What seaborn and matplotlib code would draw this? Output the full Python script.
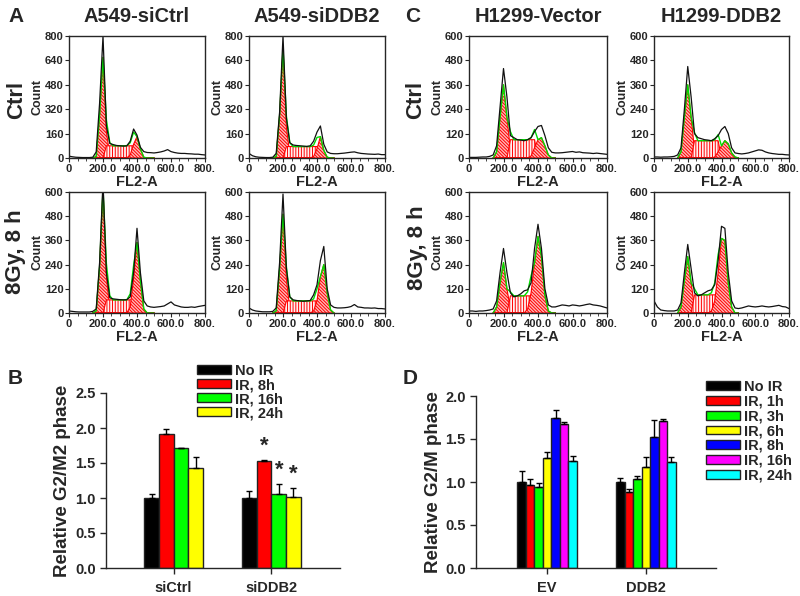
import numpy as np
import pandas as pd
import matplotlib
matplotlib.use("Agg")
import matplotlib.pyplot as plt
from matplotlib.ticker import MultipleLocator
import seaborn as sns

sns.set_style("ticks")
plt.rcParams["font.family"] = ["Liberation Sans", "DejaVu Sans"]
plt.rcParams["font.weight"] = "bold"
plt.rcParams["axes.labelweight"] = "bold"
plt.rcParams["hatch.linewidth"] = 0.7

# ---- flow histograms: counts sampled every 20 channels of FL2-A (0..800)
chan = list(range(0, 801, 20))
fit_chan = list(range(140, 501, 20))

a_ctrl_si = [12, 8, 5, 4, 3, 3, 3, 5, 40, 360, 800, 210, 95, 88, 82, 80, 78, 80, 110, 190, 150,
             70, 42, 36, 35, 33, 36, 40, 46, 55, 42, 36, 32, 30, 30, 28, 27, 25, 25, 22, 20]
a_ctrl_si_g1 = [0, 10, 280, 660, 170, 20, 0, 0, 0, 0, 0, 0, 0, 0, 0, 0, 0, 0, 0]
a_ctrl_si_s = [0, 0, 0, 0, 80, 80, 80, 80, 80, 80, 80, 80, 80, 0, 0, 0, 0, 0, 0]
a_ctrl_si_g2 = [0, 0, 0, 0, 0, 0, 0, 0, 0, 0, 0, 20, 90, 140, 60, 5, 0, 0, 0]

a_ctrl_dd = [30, 15, 8, 5, 4, 3, 3, 5, 30, 300, 800, 260, 100, 85, 82, 80, 78, 76, 80, 110, 170,
             210, 90, 40, 30, 28, 28, 30, 32, 35, 38, 40, 34, 30, 28, 26, 25, 24, 26, 22, 22]
a_ctrl_dd_g1 = [0, 10, 280, 720, 200, 25, 0, 0, 0, 0, 0, 0, 0, 0, 0, 0, 0, 0, 0]
a_ctrl_dd_s = [0, 0, 0, 0, 75, 75, 75, 75, 75, 75, 75, 75, 75, 75, 0, 0, 0, 0, 0]
a_ctrl_dd_g2 = [0, 0, 0, 0, 0, 0, 0, 0, 0, 0, 0, 0, 10, 60, 140, 50, 5, 0, 0]

a_ir_si = [10, 8, 6, 5, 5, 5, 5, 8, 20, 250, 650, 200, 75, 70, 68, 66, 65, 66, 80, 200, 420,
           200, 60, 35, 30, 28, 30, 32, 35, 45, 55, 40, 35, 30, 28, 28, 30, 28, 32, 35, 38]
a_ir_si_g1 = [0, 10, 230, 620, 180, 20, 0, 0, 0, 0, 0, 0, 0, 0, 0, 0, 0, 0, 0]
a_ir_si_s = [0, 0, 0, 0, 65, 65, 65, 65, 65, 65, 65, 65, 65, 0, 0, 0, 0, 0, 0]
a_ir_si_g2 = [0, 0, 0, 0, 0, 0, 0, 0, 0, 0, 0, 30, 170, 350, 160, 20, 0, 0, 0]

a_ir_dd = [25, 15, 10, 8, 6, 6, 6, 8, 25, 250, 590, 220, 80, 65, 62, 60, 58, 60, 62, 90, 140,
           260, 330, 120, 40, 28, 25, 25, 26, 28, 32, 42, 30, 28, 25, 25, 24, 25, 22, 22, 20]
a_ir_dd_g1 = [0, 10, 220, 490, 170, 20, 0, 0, 0, 0, 0, 0, 0, 0, 0, 0, 0, 0, 0]
a_ir_dd_s = [0, 0, 0, 0, 60, 60, 60, 60, 60, 60, 60, 60, 60, 60, 0, 0, 0, 0, 0]
a_ir_dd_g2 = [0, 0, 0, 0, 0, 0, 0, 0, 0, 0, 0, 0, 10, 60, 180, 240, 100, 15, 0]

c_ctrl_ev = [3, 3, 3, 4, 5, 5, 8, 15, 60, 250, 440, 300, 110, 100, 90, 88, 85, 90, 100, 130, 155,
             160, 110, 50, 28, 25, 25, 26, 28, 30, 32, 28, 30, 26, 25, 24, 22, 24, 22, 20, 18]
c_ctrl_ev_g1 = [0, 30, 200, 360, 200, 40, 0, 0, 0, 0, 0, 0, 0, 0, 0, 0, 0, 0, 0]
c_ctrl_ev_s = [0, 0, 0, 0, 0, 90, 90, 90, 90, 90, 90, 90, 90, 0, 0, 0, 0, 0, 0]
c_ctrl_ev_g2 = [0, 0, 0, 0, 0, 0, 0, 0, 0, 0, 0, 10, 50, 90, 100, 60, 15, 0, 0]

c_ctrl_dd = [5, 5, 4, 5, 5, 6, 8, 15, 50, 240, 450, 300, 120, 100, 95, 90, 88, 85, 95, 110, 140,
             155, 120, 50, 25, 22, 20, 22, 25, 30, 35, 40, 38, 30, 25, 22, 20, 18, 18, 16, 15]
c_ctrl_dd_g1 = [0, 30, 200, 360, 200, 40, 0, 0, 0, 0, 0, 0, 0, 0, 0, 0, 0, 0, 0]
c_ctrl_dd_s = [0, 0, 0, 0, 0, 85, 85, 85, 85, 85, 85, 85, 85, 0, 0, 0, 0, 0, 0]
c_ctrl_dd_g2 = [0, 0, 0, 0, 0, 0, 0, 0, 0, 0, 0, 5, 30, 60, 85, 70, 25, 5, 0]

c_ir_ev = [10, 10, 8, 10, 10, 12, 15, 20, 60, 200, 320, 200, 100, 80, 85, 95, 110, 115, 150, 320, 440,
           320, 120, 40, 30, 30, 35, 40, 38, 35, 40, 38, 35, 38, 42, 45, 40, 38, 35, 30, 25]
c_ir_ev_g1 = [0, 30, 150, 250, 120, 20, 0, 0, 0, 0, 0, 0, 0, 0, 0, 0, 0, 0, 0]
c_ir_ev_s = [0, 0, 0, 0, 0, 85, 85, 85, 85, 85, 85, 85, 0, 0, 0, 0, 0, 0, 0]
c_ir_ev_g2 = [0, 0, 0, 0, 0, 0, 0, 0, 0, 0, 20, 100, 250, 380, 280, 90, 10, 0, 0]

c_ir_dd = [60, 30, 15, 12, 10, 10, 10, 15, 50, 200, 340, 220, 100, 85, 90, 100, 110, 115, 140, 260, 430,
           420, 200, 60, 25, 22, 25, 30, 35, 32, 30, 32, 35, 32, 30, 32, 35, 38, 32, 30, 22]
c_ir_dd_g1 = [0, 30, 160, 280, 150, 30, 0, 0, 0, 0, 0, 0, 0, 0, 0, 0, 0, 0, 0]
c_ir_dd_s = [0, 0, 0, 0, 0, 90, 90, 90, 90, 90, 90, 90, 90, 0, 0, 0, 0, 0, 0]
c_ir_dd_g2 = [0, 0, 0, 0, 0, 0, 0, 0, 0, 0, 10, 60, 200, 370, 360, 150, 30, 0, 0]

# ---- panel B
b_groups = ["siCtrl", "siDDB2"]
b_conds = ["No IR", "IR, 8h", "IR, 16h", "IR, 24h"]
b_sictrl = [1.00, 1.91, 1.71, 1.43]
b_sictrl_err = [0.06, 0.08, 0.00, 0.15]
b_siddb2 = [1.00, 1.53, 1.06, 1.02]
b_siddb2_err = [0.10, 0.02, 0.14, 0.13]
b_colors = ["#000000", "#ff0000", "#00ff00", "#ffff00"]

# ---- panel D
d_groups = ["EV", "DDB2"]
d_conds = ["No IR", "IR, 1h", "IR, 3h", "IR, 6h", "IR, 8h", "IR, 16h", "IR, 24h"]
d_ev = [1.00, 0.96, 0.94, 1.28, 1.75, 1.67, 1.25]
d_ev_err = [0.13, 0.07, 0.05, 0.07, 0.09, 0.03, 0.05]
d_ddb2 = [1.00, 0.88, 1.03, 1.18, 1.52, 1.71, 1.23]
d_ddb2_err = [0.05, 0.04, 0.04, 0.11, 0.20, 0.02, 0.06]
d_colors = ["#000000", "#ff0000", "#00ff00", "#ffff00", "#0000ff", "#ff00ff", "#00ffff"]

W, H = 800, 596
fig = plt.figure(figsize=(W / 100, H / 100), dpi=100)


def px_axes(l, t, r, b):
    return fig.add_axes([l / W, 1 - b / H, (r - l) / W, (b - t) / H])


def draw_hist(ax, trace, g1, sph, g2, ymax):
    dense = "\\" * 10
    ax.fill_between(fit_chan, g1, facecolor="#ffb8b8", edgecolor="red", hatch=dense, lw=0.8)
    ax.fill_between(fit_chan, sph, facecolor="#fff0f0", edgecolor="red", hatch="|" * 6, lw=0.8)
    ax.fill_between(fit_chan, g2, facecolor="#ffb8b8", edgecolor="red", hatch=dense, lw=0.8)
    total = np.array(g1) + np.array(sph) + np.array(g2)
    sns.lineplot(x=fit_chan, y=total, ax=ax, color="#00dd00", lw=1.0)
    sns.lineplot(x=chan, y=trace, ax=ax, color="#111111", lw=0.9)
    ax.set_xlim(0, 800)
    ax.set_ylim(0, ymax)
    ax.set_xticks([0, 200, 400, 600, 800])
    ax.set_xticklabels(["0", "200.0", "400.0", "600.0", "800."])
    ax.set_yticks(np.linspace(0, ymax, 6))
    ax.set_yticklabels([f"{int(v)}" for v in np.linspace(0, ymax, 6)])
    ax.xaxis.set_minor_locator(MultipleLocator(50))
    ax.tick_params(labelsize=8, length=3, width=0.8, pad=1)
    ax.tick_params(which="minor", length=2, width=0.6)
    for s in ax.spines.values():
        s.set_linewidth(1.0)
    ax.set_xlabel("FL2-A", fontsize=10.5, labelpad=1)
    ax.set_ylabel("Count", fontsize=9, labelpad=1)


hists = [
    ((69, 36, 205, 158), a_ctrl_si, a_ctrl_si_g1, a_ctrl_si_s, a_ctrl_si_g2, 800),
    ((249, 36, 385, 158), a_ctrl_dd, a_ctrl_dd_g1, a_ctrl_dd_s, a_ctrl_dd_g2, 800),
    ((69, 192, 205, 313), a_ir_si, a_ir_si_g1, a_ir_si_s, a_ir_si_g2, 600),
    ((249, 192, 385, 313), a_ir_dd, a_ir_dd_g1, a_ir_dd_s, a_ir_dd_g2, 600),
    ((469, 36, 607, 158), c_ctrl_ev, c_ctrl_ev_g1, c_ctrl_ev_s, c_ctrl_ev_g2, 600),
    ((654, 36, 789, 158), c_ctrl_dd, c_ctrl_dd_g1, c_ctrl_dd_s, c_ctrl_dd_g2, 600),
    ((469, 192, 607, 313), c_ir_ev, c_ir_ev_g1, c_ir_ev_s, c_ir_ev_g2, 600),
    ((654, 192, 789, 313), c_ir_dd, c_ir_dd_g1, c_ir_dd_s, c_ir_dd_g2, 600),
]
for box, tr, g1, sp, g2, ym in hists:
    ax = px_axes(*box)
    draw_hist(ax, tr, g1, sp, g2, ym)

# titles, panel letters and row labels
fig.text(137 / W, 1 - 16 / H, "A549-siCtrl", ha="center", va="center", fontsize=14.5)
fig.text(317 / W, 1 - 16 / H, "A549-siDDB2", ha="center", va="center", fontsize=14.5)
fig.text(538 / W, 1 - 16 / H, "H1299-Vector", ha="center", va="center", fontsize=14.5)
fig.text(721 / W, 1 - 16 / H, "H1299-DDB2", ha="center", va="center", fontsize=14.5)
for x, y, s in [(8, 16, "A"), (405, 16, "C"), (8, 378, "B"), (403, 378, "D")]:
    fig.text(x / W, 1 - y / H, s, ha="left", va="center", fontsize=15)
for x, y, s in [(17, 100, "Ctrl"), (16, 252, "8Gy, 8 h"), (416, 100, "Ctrl"), (418, 248, "8Gy, 8 h")]:
    fig.text(x / W, 1 - y / H, s, ha="center", va="center", rotation=90, fontsize=16)


def draw_bars(ax, groups, conds, v1, e1, v2, e2, colors):
    df = pd.DataFrame({
        "group": [groups[0]] * len(conds) + [groups[1]] * len(conds),
        "cond": conds + conds,
        "value": v1 + v2,
        "err": e1 + e2,
    })
    sns.barplot(data=df, x="group", y="value", hue="cond", hue_order=conds,
                palette=colors, saturation=1, width=0.6, errorbar=None,
                edgecolor="#222222", linewidth=1.0, ax=ax)
    for cont, cond in zip(ax.containers, conds):
        sub = df[df["cond"] == cond]
        xs = [p.get_x() + p.get_width() / 2 for p in cont.patches]
        ax.errorbar(xs, sub["value"], yerr=[np.zeros(len(sub)), sub["err"]], fmt="none",
                    ecolor="black", elinewidth=1.0, capsize=2.5, capthick=1.0)
    sns.despine(ax=ax)
    ax.set_xlabel("")
    ax.tick_params(labelsize=10.5, length=4, width=1.0)
    ax.tick_params(axis="x", pad=5)
    ax.spines["left"].set_linewidth(1.0)
    ax.spines["bottom"].set_linewidth(1.0)
    return df


# panel B
axb = px_axes(106, 393, 340, 568)
dfb = draw_bars(axb, b_groups, b_conds, b_sictrl, b_sictrl_err, b_siddb2, b_siddb2_err, b_colors)
axb.set_xlim(-0.69, 1.70)
axb.set_ylim(0, 2.5)
axb.set_yticks([0, 0.5, 1.0, 1.5, 2.0, 2.5])
axb.yaxis.set_major_formatter(lambda v, p: f"{v:.1f}")
axb.set_ylabel("Relative G2/M2 phase", fontsize=13.5, labelpad=3)
handles, labels = axb.get_legend_handles_labels()
axb.legend(handles, labels, loc="upper left", bbox_to_anchor=(197 / W, 1 - 364 / H),
           bbox_transform=fig.transFigure, frameon=False, fontsize=10.5,
           handlelength=2.3, handleheight=0.55, labelspacing=0.0, handletextpad=0.3,
           borderpad=0, borderaxespad=0)
# significance marks above siDDB2 irradiated bars
for cont, cond in zip(axb.containers[1:], b_conds[1:]):
    p = cont.patches[1]
    row = dfb[(dfb["cond"] == cond) & (dfb["group"] == "siDDB2")].iloc[0]
    axb.text(p.get_x() + p.get_width() / 2, row["value"] + row["err"] + 0.04, "*",
             ha="center", va="bottom", fontsize=16)

# panel D
axd = px_axes(476, 396, 716, 568)
draw_bars(axd, d_groups, d_conds, d_ev, d_ev_err, d_ddb2, d_ddb2_err, d_colors)
axd.set_xlim(-0.72, 1.71)
axd.set_ylim(0, 2.0)
axd.set_yticks([0, 0.5, 1.0, 1.5, 2.0])
axd.yaxis.set_major_formatter(lambda v, p: f"{v:.1f}")
axd.set_ylabel("Relative G2/M phase", fontsize=13.5, labelpad=2)
handles, labels = axd.get_legend_handles_labels()
axd.legend(handles, labels, loc="upper left", bbox_to_anchor=(706 / W, 1 - 380 / H),
           bbox_transform=fig.transFigure, frameon=False, fontsize=10.5,
           handlelength=2.3, handleheight=0.55, labelspacing=0.05, handletextpad=0.3,
           borderpad=0, borderaxespad=0)

fig.savefig("out.png", dpi=100)
